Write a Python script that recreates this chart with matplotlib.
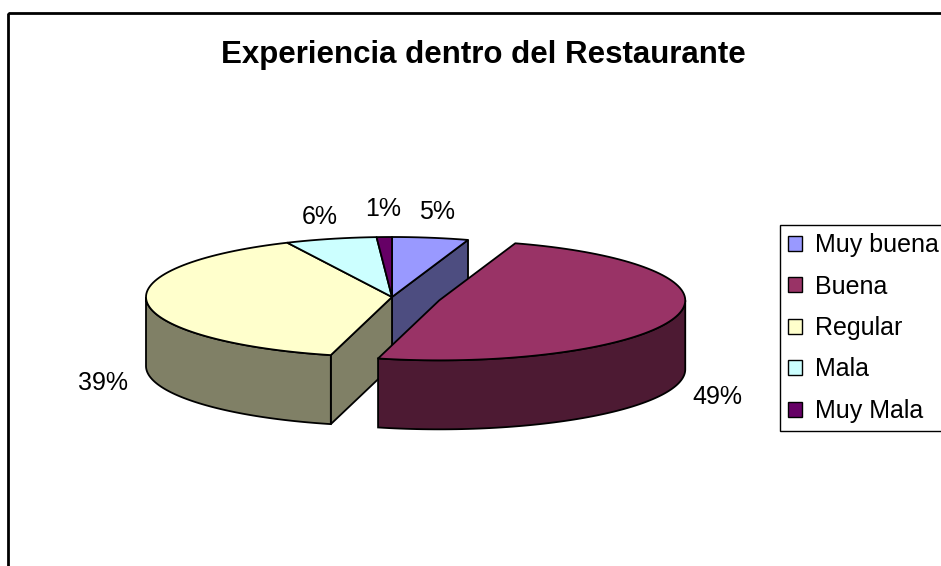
import numpy as np
import matplotlib.pyplot as plt
from matplotlib.patches import Polygon, Rectangle, Patch

# datos del grafico
categorias = ["Muy buena", "Buena", "Regular", "Mala", "Muy Mala"]
valores = [5, 49, 39, 6, 1]
colores_tapa = ["#9999FF", "#993366", "#FFFFCC", "#CCFFFF", "#660066"]
colores_lado = ["#4D4D80", "#4D1A33", "#808066", "#668080", "#330033"]
separacion = [0, 0.2, 0, 0, 0]
titulo = "Experiencia dentro del Restaurante"

plt.rcParams['font.family'] = ['Liberation Sans', 'DejaVu Sans']

fig = plt.figure(figsize=(9.41, 5.66), dpi=100)
ax = fig.add_axes([0, 0, 1, 1])
ax.set_xlim(0, 941)
ax.set_ylim(566, 0)
ax.axis('off')

# marco exterior del grafico (cortado a la derecha y abajo)
ax.add_patch(Rectangle((8, 13), 1000, 1000, fill=False, edgecolor='black', lw=2))

# geometria de la torta 3D (en pixeles)
cx, cy, rx, ry, alto = 392, 297, 246, 60, 69


def punto(t, c):
    return c[0] + rx * np.sin(t), c[1] - ry * np.cos(t)


fracs = np.array(valores) / sum(valores)
bordes = np.concatenate([[0], np.cumsum(fracs)]) * 2 * np.pi
n = len(valores)

centros = []
for i in range(n):
    medio = (bordes[i] + bordes[i + 1]) / 2
    e = separacion[i]
    centros.append((cx + e * rx * np.sin(medio), cy - e * ry * np.cos(medio)))

paredes_radiales = []
paredes_exteriores = []
tapas = []
for i in range(n):
    a, b = bordes[i], bordes[i + 1]
    c = centros[i]
    # paredes radiales, solo donde hay separacion y miran al frente
    previo, siguiente = (i - 1) % n, (i + 1) % n
    for t, vecino, visible in [(a, previo, np.sin(a) < -1e-6), (b, siguiente, np.sin(b) > 1e-6)]:
        if visible and separacion[vecino] != separacion[i]:
            px, py = punto(t, c)
            quad = [c, (px, py), (px, py + alto), (c[0], c[1] + alto)]
            paredes_radiales.append(Polygon(quad, closed=True, fc=colores_lado[i], ec='black', lw=1.3))
    # pared exterior (mitad delantera)
    t0, t1 = max(a, np.pi / 2), min(b, 3 * np.pi / 2)
    if t1 > t0:
        ts = np.linspace(t0, t1, 80)
        xs, ys = punto(ts, c)
        pts = np.column_stack([np.concatenate([xs, xs[::-1]]),
                               np.concatenate([ys, ys[::-1] + alto])])
        paredes_exteriores.append(Polygon(pts, closed=True, fc=colores_lado[i], ec='black', lw=1.3))
    # tapa
    ts = np.linspace(a, b, max(int(200 * fracs[i]), 4))
    xs, ys = punto(ts, c)
    pts = np.vstack([[c], np.column_stack([xs, ys])])
    tapas.append(Polygon(pts, closed=True, fc=colores_tapa[i], ec='black', lw=1.3, joinstyle='round'))

for p in paredes_radiales + paredes_exteriores + tapas:
    ax.add_patch(p)

# etiquetas de porcentaje
for i in range(n):
    medio = (bordes[i] + bordes[i + 1]) / 2
    c = centros[i]
    lx = c[0] + 290 * np.sin(medio)
    ly = c[1] - 88 * np.cos(medio) + 78 * np.sin(medio) ** 2
    ax.text(lx, ly, f"{fracs[i] * 100:.0f}%", fontsize=18, ha='center', va='center')

ax.text(483, 55, titulo, fontsize=22.5, fontweight='bold', ha='center', va='center')

manejadores = [Patch(facecolor=colores_tapa[i], edgecolor='black', lw=1) for i in range(n)]
ley = ax.legend(manejadores, categorias, loc='upper left', bbox_to_anchor=(780, 225),
                bbox_transform=ax.transData, fontsize=18, frameon=True, fancybox=False,
                framealpha=1, edgecolor='black', borderpad=0.32, handlelength=0.55,
                handleheight=0.55, handletextpad=0.55, labelspacing=0.7, borderaxespad=0)
ley.get_frame().set_linewidth(1)

fig.savefig("out.png", dpi=100)
